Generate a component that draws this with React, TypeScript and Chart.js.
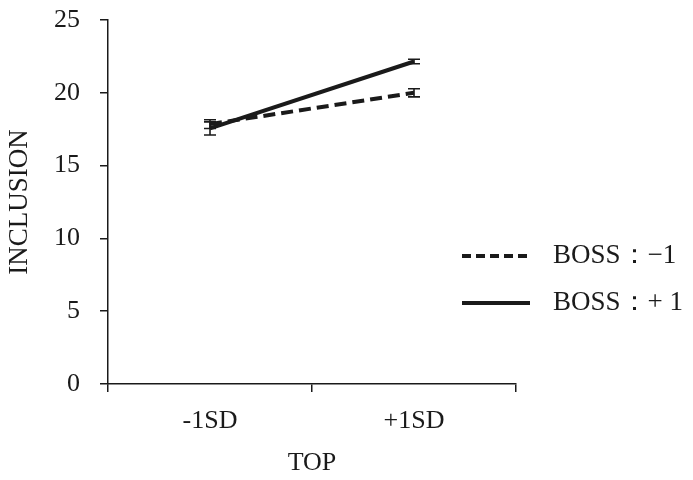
import React, { useEffect, useRef } from "react";
import { Chart, registerables } from "chart.js";

Chart.register(...registerables);

const categories = ["-1SD", "+1SD"];
const bossMinus = [17.85, 20.0];
const bossPlus = [17.55, 22.15];
const errMinus = [0.3, 0.28];
const errPlus = [0.45, 0.15];
const legendLabels = ["BOSS：−1", "BOSS：+ 1"];
const xTitle = "TOP";
const yTitle = "INCLUSION";
const yMin = 0;
const yMax = 25;
const yStep = 5;

const FONT = "'Liberation Serif', 'Times New Roman', serif";
const INK = "#1a1a1a";
const FS = 26;

const errorBarPlugin = {
  id: "errorBars",
  afterDatasetsDraw(chart: any) {
    const ctx = chart.ctx;
    const xs = chart.scales.x;
    const ys = chart.scales.y;
    ctx.save();
    ctx.strokeStyle = INK;
    ctx.lineWidth = 1.6;
    chart.data.datasets.forEach((ds: any) => {
      const errs: number[] = ds.errors || [];
      ds.data.forEach((v: number, i: number) => {
        const e = errs[i];
        if (e == null) return;
        const x = xs.getPixelForValue(i);
        const y1 = ys.getPixelForValue(v + e);
        const y2 = ys.getPixelForValue(v - e);
        const cap = 6;
        ctx.beginPath();
        ctx.moveTo(x, y1);
        ctx.lineTo(x, y2);
        ctx.moveTo(x - cap, y1);
        ctx.lineTo(x + cap, y1);
        ctx.moveTo(x - cap, y2);
        ctx.lineTo(x + cap, y2);
        ctx.stroke();
      });
    });
    ctx.restore();
  },
};

const legendPlugin = {
  id: "customLegend",
  afterDraw(chart: any) {
    const ctx = chart.ctx;
    const area = chart.chartArea;
    ctx.save();
    const x0 = area.right - 54;
    const x1 = area.right + 14;
    const rows = [
      { y: 256, dash: [9, 5] },
      { y: 303, dash: [] as number[] },
    ];
    chart.data.datasets.forEach((ds: any, i: number) => {
      const r = rows[i];
      ctx.strokeStyle = INK;
      ctx.lineWidth = 4;
      ctx.setLineDash(r.dash);
      ctx.beginPath();
      ctx.moveTo(x0, r.y);
      ctx.lineTo(x1, r.y);
      ctx.stroke();
      ctx.setLineDash([]);
      ctx.fillStyle = INK;
      ctx.font = `27px ${FONT}`;
      ctx.textBaseline = "middle";
      ctx.textAlign = "left";
      ctx.fillText(legendLabels[i], area.right + 37, r.y);
    });
    ctx.restore();
  },
};

export default function App() {
  const ref = useRef<HTMLCanvasElement>(null);
  useEffect(() => {
    if (!ref.current) return;
    const chart = new Chart(ref.current, {
      type: "line",
      data: {
        labels: categories,
        datasets: [
          {
            label: legendLabels[0],
            data: bossMinus,
            errors: errMinus,
            borderColor: INK,
            borderWidth: 4,
            borderDash: [12, 6],
            pointRadius: 0,
            fill: false,
          } as any,
          {
            label: legendLabels[1],
            data: bossPlus,
            errors: errPlus,
            borderColor: INK,
            borderWidth: 4,
            pointRadius: 0,
            fill: false,
          } as any,
        ],
      },
      options: {
        responsive: false,
        animation: false,
        layout: { padding: { top: 20, right: 177, left: 0, bottom: 0 } },
        plugins: { legend: { display: false }, tooltip: { enabled: false } },
        scales: {
          x: {
            offset: true,
            grid: {
              display: true,
              drawOnChartArea: false,
              drawTicks: true,
              tickLength: 8,
              offset: true,
              color: INK,
              lineWidth: 1.5,
            },
            border: { display: true, color: INK, width: 1.5 },
            ticks: {
              color: INK,
              font: { family: FONT, size: FS },
              padding: 14,
              maxRotation: 0,
            },
            title: {
              display: true,
              text: xTitle,
              color: INK,
              font: { family: FONT, size: FS },
              padding: { top: 0, bottom: 1 },
            },
            afterFit: (s: any) => {
              s.height = 96;
              s.paddingLeft = 0;
              s.paddingRight = 0;
            },
          },
          y: {
            min: yMin,
            max: yMax,
            grid: {
              display: true,
              drawOnChartArea: false,
              drawTicks: true,
              tickLength: 8,
              color: INK,
              lineWidth: 1.5,
            },
            border: { display: true, color: INK, width: 1.5 },
            ticks: {
              stepSize: yStep,
              color: INK,
              font: { family: FONT, size: FS },
              padding: 20,
            },
            title: {
              display: true,
              text: yTitle,
              color: INK,
              font: { family: FONT, size: 27 },
              padding: { top: 4, bottom: 0 },
            },
            afterFit: (s: any) => {
              s.width = 108;
              s.paddingTop = 0;
              s.paddingBottom = 0;
            },
          },
        },
      },
      plugins: [errorBarPlugin, legendPlugin],
    } as any);
    return () => chart.destroy();
  }, []);
  return (
    <div style={{ position: "absolute", left: 0, top: 0, width: 693, height: 480, background: "#fff" }}>
      <canvas ref={ref} width={693} height={480} style={{ display: "block" }} />
    </div>
  );
}
